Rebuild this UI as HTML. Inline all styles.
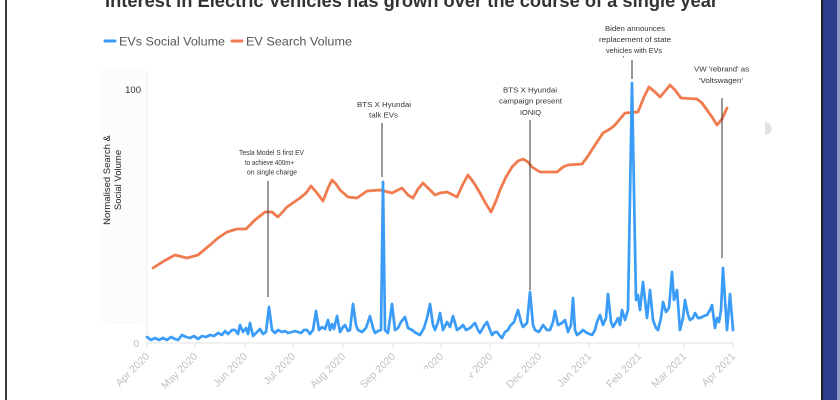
<!DOCTYPE html>
<html>
<head>
<meta charset="utf-8">
<style>
  html,body{margin:0;padding:0;background:#fff;}
  body{width:840px;height:400px;overflow:hidden;position:relative;}
  svg{position:absolute;left:0;top:0;}
  text{font-family:"Liberation Sans", Arial, sans-serif;}
</style>
</head>
<body>
<svg width="840" height="400" viewBox="0 0 840 400" xmlns="http://www.w3.org/2000/svg">
  <rect x="0" y="0" width="840" height="400" fill="#ffffff"/>
  <!-- faint panel behind y axis -->
  <rect x="100" y="70" width="47" height="253" fill="#fbfcfc"/>
  <line x1="113" y1="323" x2="137" y2="323" stroke="#eeeeee" stroke-width="1" stroke-dasharray="2,2"/>

  <!-- borders -->
  <rect x="5" y="0" width="2" height="400" fill="#3a3a3a"/>
  <rect x="821" y="0" width="2" height="400" fill="#222222"/>
  <rect x="823" y="0" width="14" height="400" fill="#2f3e8c"/>
  <rect x="837" y="0" width="3" height="400" fill="#8e98c6"/>

  <!-- gray half circle -->
  <path d="M765,122 A6.5,6.5 0 0 1 765,135 Z" fill="#e2e2e2"/>

  <!-- title -->
  <text x="105" y="7" font-size="18" font-weight="bold" fill="#333" textLength="613" lengthAdjust="spacingAndGlyphs">Interest in Electric Vehicles has grown over the course of a single year</text>

  <!-- legend -->
  <line x1="105" y1="41" x2="115" y2="41" stroke="#3a9cf7" stroke-width="3" stroke-linecap="round"/>
  <text x="119" y="45.5" font-size="12.2" fill="#555" textLength="106" lengthAdjust="spacingAndGlyphs">EVs Social Volume</text>
  <line x1="232" y1="41" x2="242" y2="41" stroke="#ef7b4f" stroke-width="3" stroke-linecap="round"/>
  <text x="246" y="45.5" font-size="12.2" fill="#555" textLength="106" lengthAdjust="spacingAndGlyphs">EV Search Volume</text>

  <!-- axes -->
  <line x1="147" y1="72" x2="147" y2="343" stroke="#ececec" stroke-width="1"/>
  <line x1="147" y1="343" x2="734" y2="343" stroke="#ececec" stroke-width="1.5"/>
  <g stroke="#e6e6e6" stroke-width="1">
    <line x1="147" y1="343" x2="147" y2="349"/>
    <line x1="195" y1="343" x2="195" y2="349"/>
    <line x1="245" y1="343" x2="245" y2="349"/>
    <line x1="293" y1="343" x2="293" y2="349"/>
    <line x1="343" y1="343" x2="343" y2="349"/>
    <line x1="393" y1="343" x2="393" y2="349"/>
    <line x1="441" y1="343" x2="441" y2="349"/>
    <line x1="490" y1="343" x2="490" y2="349"/>
    <line x1="539" y1="343" x2="539" y2="349"/>
    <line x1="589" y1="343" x2="589" y2="349"/>
    <line x1="639" y1="343" x2="639" y2="349"/>
    <line x1="684" y1="343" x2="684" y2="349"/>
    <line x1="733" y1="343" x2="733" y2="349"/>
  </g>

  <!-- y labels -->
  <text x="141" y="93" font-size="9.5" fill="#333" text-anchor="end">100</text>
  <text x="139" y="347" font-size="10" fill="#bbb" text-anchor="end">0</text>
  <text transform="translate(110,180) rotate(-90)" font-size="9.5" fill="#222" text-anchor="middle">Normalised Search &amp;</text>
  <text transform="translate(121,180) rotate(-90)" font-size="9.5" fill="#222" text-anchor="middle">Social Volume</text>

  <!-- x labels -->
  <g font-size="10.5" fill="#c0c0c0" text-anchor="end">
    <text transform="translate(150,357) rotate(-45)">Apr 2020</text>
    <text transform="translate(198,357) rotate(-45)">May 2020</text>
    <text transform="translate(248,357) rotate(-45)">Jun 2020</text>
    <text transform="translate(296,357) rotate(-45)">Jul 2020</text>
    <text transform="translate(346,357) rotate(-45)">Aug 2020</text>
    <text transform="translate(396,357) rotate(-45)">Sep 2020</text>
    <text transform="translate(444,357) rotate(-45)">Oct 2020</text>
    <text transform="translate(493,357) rotate(-45)">Nov 2020</text>
    <text transform="translate(542,357) rotate(-45)">Dec 2020</text>
    <text transform="translate(592,357) rotate(-45)">Jan 2021</text>
    <text transform="translate(642,357) rotate(-45)">Feb 2021</text>
    <text transform="translate(687,357) rotate(-45)">Mar 2021</text>
    <text transform="translate(736,357) rotate(-45)">Apr 2021</text>
  </g>
  <!-- white box hiding parts of Oct/Nov labels -->
  <rect x="399" y="369" width="70" height="31" fill="#ffffff"/>

  <!-- orange search volume -->
  <polyline fill="none" stroke="#ef7b4f" stroke-width="2.8" stroke-linejoin="round" stroke-linecap="round"
    points="153,268 164,261 175,255 187,258 198,255 210,245 218,238 227,232 237,229 246,229 255,220 265,212 272,212 278,217 287,207 300,198 306,193 311,186 317,193 323,201 328,188 332,180 336,184 340,190 348,197 357,198 367,191 380,190 392,193 402,188 408,195 413,198 418,189 423,183 430,190 435,195 440,193 447,192 457,197 463,184 468,175 474,183 480,193 486,204 491,212 496,201 500,190 506,177 512,167 518,161 523,159 528,162 532,167 540,172 557,172 563,167 568,165 582,164 588,156 595,145 603,133 610,129 615,125 620,119 625,113 638,112 644,97 649,87 655,92 660,97 666,90 670,85 675,90 681,98 697,99 702,103 707,110 712,117 717,125 722,119 727,108"/>

  <!-- blue social volume -->
  <polyline fill="none" stroke="#3a9cf7" stroke-width="2.7" stroke-linejoin="round" stroke-linecap="round"
    points="147,337 151,340 155,338 159,340 163,338 167,340 171,337 175,339 178,340 182,335 186,337 190,338 194,336 198,339 202,336 206,337 210,335 214,336 218,333 222,335 225,331 228,334 232,330 235,330 238,334 240,325 243,332 246,328 248,334 250,323 253,336 256,333 260,329 263,334 266,332 269,307 272,330 275,333 278,330 282,332 285,331 288,333 292,332 295,331 298,332 301,333 304,330 307,330 310,334 313,330 316,311 319,330 322,327 325,329 328,320 330,330 332,324 334,329 337,316 340,332 343,327 345,325 348,331 350,330 353,304 356,325 358,330 362,332 366,328 370,316 373,328 375,333 378,331 381,330 383,182 385,330 388,333 392,304 395,330 398,328 401,322 405,317 408,328 412,330 416,333 420,335 424,328 427,318 430,304 433,325 435,330 438,322 440,313 443,330 447,322 450,327 453,316 457,330 460,328 463,325 466,330 470,328 473,325 475,323 478,330 480,333 484,326 487,322 490,330 492,335 495,332 497,332 500,336 502,338 505,332 508,330 510,326 514,322 518,310 521,322 523,327 527,323 530,292 533,325 535,330 539,332 543,325 547,330 550,330 553,322 555,311 558,325 562,323 565,320 568,332 571,325 573,298 575,330 577,335 580,333 583,330 587,333 592,335 595,330 597,322 600,315 603,325 606,318 608,294 611,322 613,327 616,322 618,318 620,325 622,310 625,320 628,310 632,83 636,300 638,295 640,310 643,282 645,300 647,318 650,290 653,320 656,328 658,330 661,318 663,302 666,312 669,308 672,272 674,300 677,290 680,330 683,318 685,300 688,315 690,320 693,318 695,313 698,318 700,318 704,316 707,315 710,310 712,305 715,328 717,318 719,322 721,310 723,268 725,300 727,330 730,294 733,330"/>

  <!-- annotation lines -->
  <g stroke="#333" stroke-width="1">
    <line x1="268" y1="181" x2="268" y2="297"/>
    <line x1="382" y1="123" x2="382" y2="177"/>
    <line x1="530" y1="120" x2="530" y2="290"/>
    <line x1="632" y1="60" x2="632" y2="79"/>
    <line x1="722" y1="98" x2="722" y2="258"/>
  </g>

  <!-- annotations -->
  <g font-size="7.2" fill="#333">
    <text x="239" y="155" textLength="65" lengthAdjust="spacingAndGlyphs">Tesla Model S first EV</text>
    <text x="245" y="165" textLength="49" lengthAdjust="spacingAndGlyphs">to achieve 400m+</text>
    <text x="247" y="174.5" textLength="50" lengthAdjust="spacingAndGlyphs">on single charge</text>

    <text x="357" y="107" textLength="54" lengthAdjust="spacingAndGlyphs">BTS X Hyundai</text>
    <text x="369" y="117.5" textLength="29" lengthAdjust="spacingAndGlyphs">talk EVs</text>

    <text x="503" y="92.5" textLength="54" lengthAdjust="spacingAndGlyphs">BTS X Hyundai</text>
    <text x="499" y="103.5" textLength="63" lengthAdjust="spacingAndGlyphs">campaign present</text>
    <text x="520" y="115" textLength="21" lengthAdjust="spacingAndGlyphs">IONIQ</text>

    <text x="605" y="31" textLength="60" lengthAdjust="spacingAndGlyphs">Biden announces</text>
    <text x="599" y="42" textLength="72" lengthAdjust="spacingAndGlyphs">replacement of state</text>
    <text x="606" y="53" textLength="56" lengthAdjust="spacingAndGlyphs">vehicles with EVs</text>
    <text x="623" y="61">'</text>

    <text x="694" y="71.5" textLength="55" lengthAdjust="spacingAndGlyphs">VW 'rebrand' as</text>
    <text x="699" y="83" textLength="44" lengthAdjust="spacingAndGlyphs">'Voltswagen'</text>
  </g>
</svg>
</body>
</html>
